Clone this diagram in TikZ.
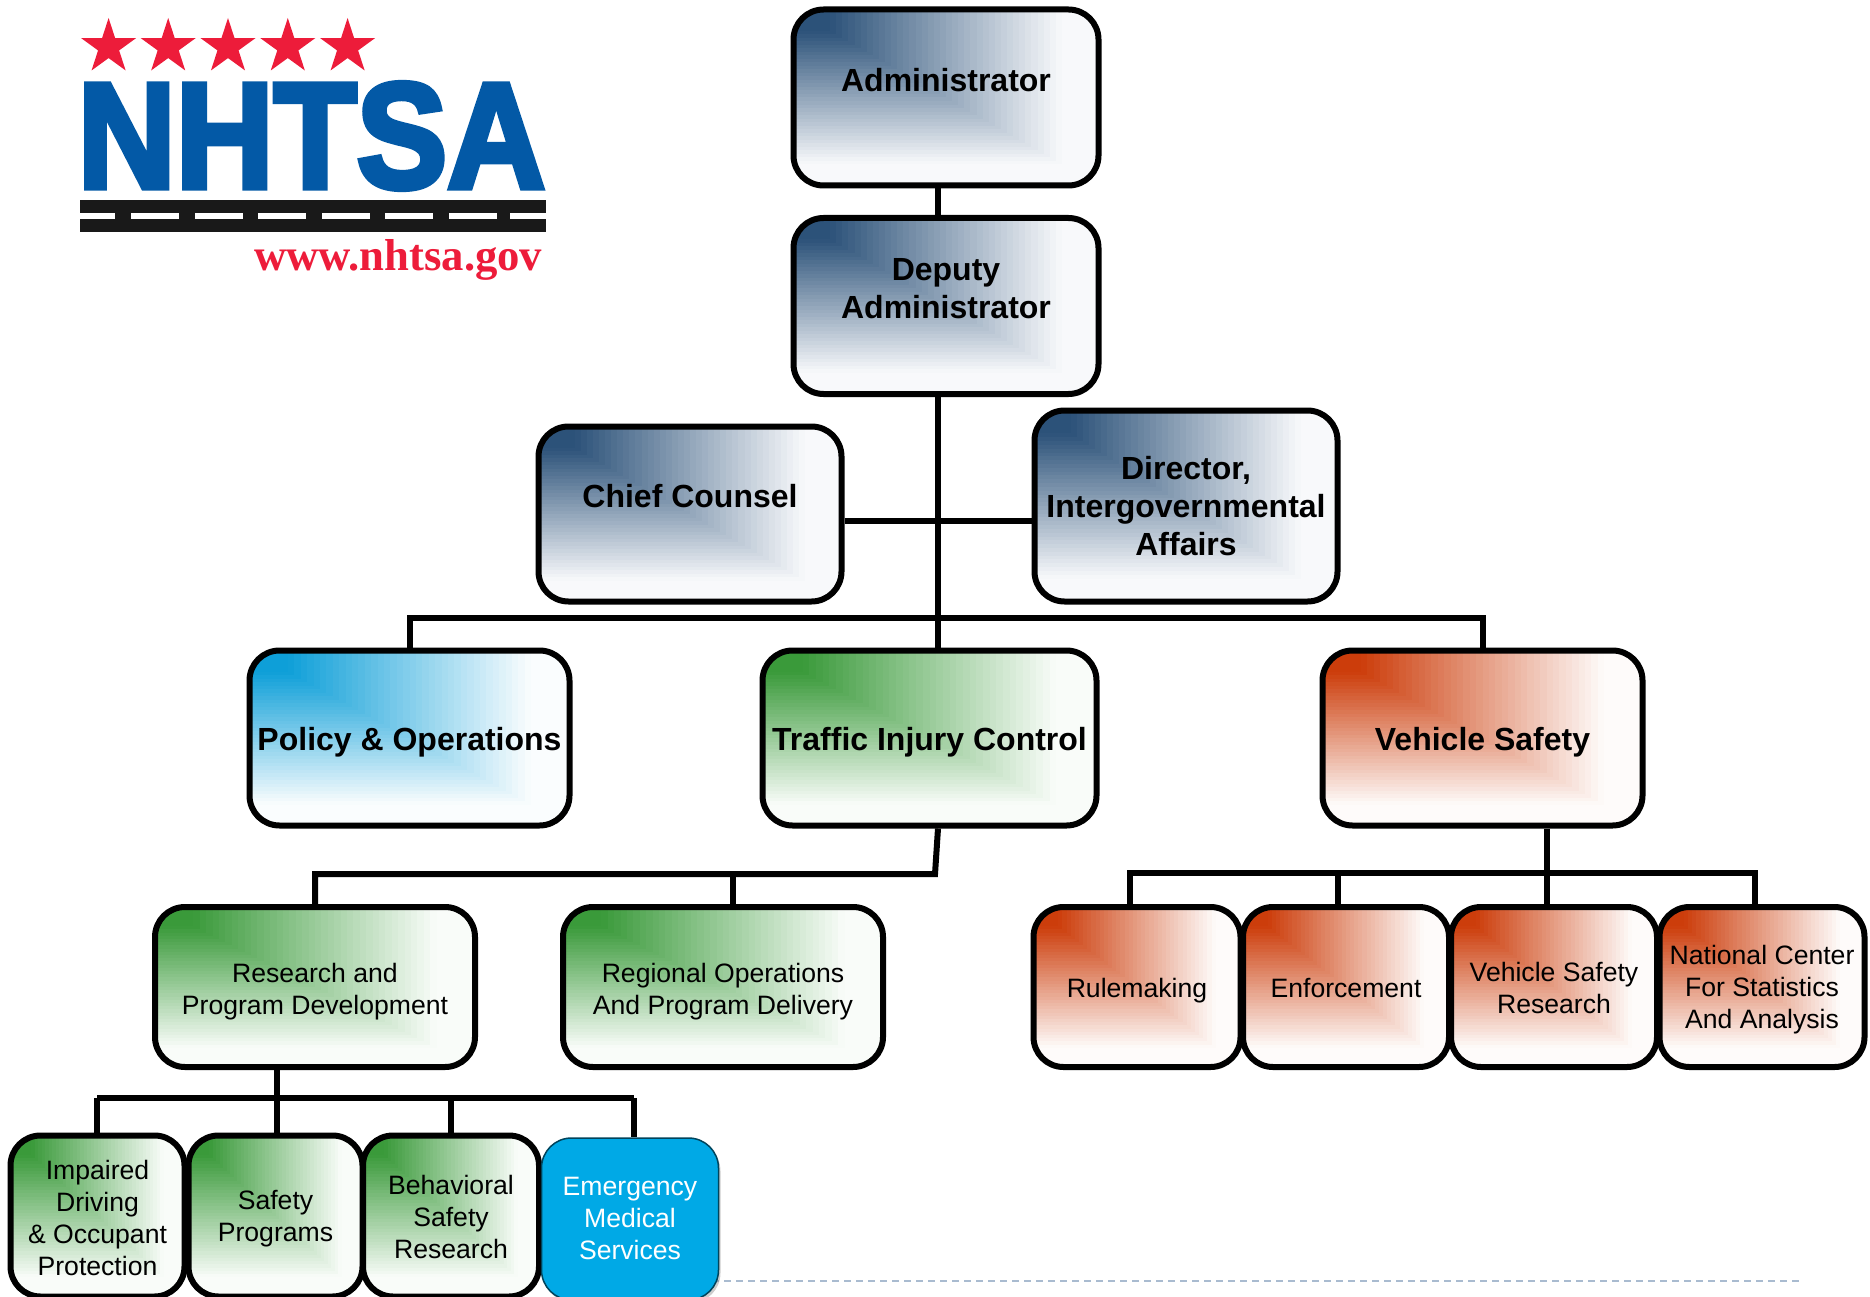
\documentclass[tikz,border=0pt]{standalone}
\usepackage{fontspec}
\setmainfont{Liberation Sans}
\newfontfamily\logofont[BoldFeatures={FakeBold=4}]{Liberation Sans}
\newfontfamily\urlfont{Liberation Serif}
\usetikzlibrary{positioning,calc,shapes.geometric,shadows}
\definecolor{bluedark}{HTML}{2C5279}
\definecolor{bluelight}{HTML}{F8F9FB}
\definecolor{greendark}{HTML}{3A9A3A}
\definecolor{greenlight}{HTML}{F9FCF9}
\definecolor{reddark}{HTML}{CC3D0B}
\definecolor{redlight}{HTML}{FEFBFA}
\definecolor{cyandark}{HTML}{0E9FD8}
\definecolor{cyanlight}{HTML}{FAFDFE}
\definecolor{emsblue}{HTML}{00A9E6}
\definecolor{logoblue}{HTML}{0359A6}
\definecolor{logored}{HTML}{ED1C3A}
\definecolor{dashblue}{HTML}{A9BBD0}
\newcommand{\lifted}[2]{\smash{\raisebox{#1pt}{\begin{tabular}{@{}c@{}}#2\end{tabular}}}}
\tikzset{
  cornerfill/.style 2 args={path picture={
    \foreach \pct in {100,98,...,0} {
      \pgfmathsetmacro\mixval{max(0,min(100,(\pct-13)/.76))}
      \fill[sharp corners,#2!\mixval!#1] (path picture bounding box.north west) rectangle
        ($(path picture bounding box.north west)!\pct/100!(path picture bounding box.south east)$);
    }}},
  orgbox/.style={draw,line width=6pt,rounded corners=30pt,inner sep=0pt},
  bigbox/.style={orgbox,font=\fontsize{32}{38}\selectfont\bfseries},
  smallbox/.style={orgbox,font=\fontsize{26.6}{32}\selectfont},
  bluebox/.style={bigbox,cornerfill={bluedark}{bluelight}},
  wire/.style={line width=6pt},
}
\begin{document}
\begin{tikzpicture}[x=1pt,y=-1pt]
\useasboundingbox (0,0) rectangle (1870,1297);
% logo
\foreach \x in {108.6,168.2,228,287.8,347.6}
  \node[star,star points=5,star point ratio=2.618,fill=logored,inner sep=0pt,minimum size=58pt] (star\x) at (\x,47) {};
\node[text=logoblue,inner sep=0pt,xscale=.905,font=\fontsize{150}{150}\logofont\bfseries] (logoname) at (311.5,136) {NHTSA};
\fill[black!90] (80,200) rectangle (545.5,232);
\fill[white] (80,213) rectangle (115,219);
\foreach \x in {131,194.5,...,450}
  \fill[white] (\x,213) rectangle (\x+48,219);
\fill[white] (510,213) rectangle (545.5,219);
\node[text=logored,inner sep=0pt,font=\fontsize{44.7}{44.7}\urlfont\bfseries] (logourl) at (398.3,260) {www.nhtsa.gov};
% top of the chart
\node[bluebox,minimum width=305pt,minimum height=176pt] (admin) at (946,97.5) {\lifted{7}{Administrator}};
\node[bluebox,minimum width=305pt,minimum height=176pt] (deputy) at (946,306) {\lifted{8}{Deputy\\Administrator}};
\node[bluebox,minimum width=303pt,minimum height=175pt] (counsel) at (690,514) {\lifted{8}{Chief Counsel}};
\node[bluebox,minimum width=303pt,minimum height=191pt] (director) at (1186,506) {\lifted{-10}{Director,\\Intergovernmental\\Affairs}};
% offices
\node[bigbox,cornerfill={cyandark}{cyanlight},minimum width=320pt,minimum height=175pt] (policy) at (409.5,738) {\lifted{-11}{Policy \& Operations}};
\node[bigbox,cornerfill={greendark}{greenlight},minimum width=334pt,minimum height=175pt] (traffic) at (929.5,738) {\lifted{-11}{Traffic Injury Control}};
\node[bigbox,cornerfill={reddark}{redlight},minimum width=320pt,minimum height=175pt] (vehicle) at (1482.5,738) {\lifted{-11}{Vehicle Safety}};
\node[smallbox,cornerfill={greendark}{greenlight},minimum width=320pt,minimum height=160pt] (research) at (315,987) {\lifted{-11}{Research and\\Program Development}};
\node[smallbox,cornerfill={greendark}{greenlight},minimum width=320pt,minimum height=160pt] (regional) at (723,987) {\lifted{-11}{Regional Operations\\And Program Delivery}};
\node[smallbox,cornerfill={reddark}{redlight},minimum width=207pt,minimum height=160pt] (rulemaking) at (1137,987) {\lifted{-10}{Rulemaking}};
\node[smallbox,cornerfill={reddark}{redlight},minimum width=206pt,minimum height=160pt] (enforcement) at (1346,987) {\lifted{-10}{Enforcement}};
\node[smallbox,cornerfill={reddark}{redlight},minimum width=206pt,minimum height=160pt] (vsresearch) at (1554,987) {\lifted{-10}{Vehicle Safety\\Research}};
\node[smallbox,cornerfill={reddark}{redlight},minimum width=205pt,minimum height=160pt] (ncsa) at (1762,987) {\lifted{-9}{National Center\\For Statistics\\And Analysis}};
% bottom row
\coordinate (dashend) at (1801,1281);
\draw[dashblue,line width=1.5pt,dash pattern=on 7pt off 5pt] (700,1281) -- (dashend);
\node[smallbox,cornerfill={greendark}{greenlight},minimum width=174pt,minimum height=161pt] (impaired) at (97.5,1216) {\lifted{-11}{Impaired\\Driving\\\& Occupant\\Protection}};
\node[smallbox,cornerfill={greendark}{greenlight},minimum width=174pt,minimum height=161pt] (safety) at (275.5,1216) {\lifted{-9}{Safety\\Programs}};
\node[smallbox,cornerfill={greendark}{greenlight},minimum width=176pt,minimum height=161pt] (behavioral) at (451,1216) {\lifted{-10}{Behavioral\\Safety\\Research}};
\node[orgbox,line width=1.5pt,draw=black!60!emsblue,fill=emsblue,text=white,font=\fontsize{26.6}{32}\selectfont,drop shadow={shadow xshift=2pt,shadow yshift=-3pt,opacity=.4},minimum width=177pt,minimum height=162pt] (ems) at (630,1219) {\lifted{-8}{Emergency\\Medical\\Services}};
% connectors
\coordinate (spine) at (938,400);
\coordinate (officebar) at (938,618);
\coordinate (trafficbar) at (935,874);
\coordinate (regionaldrop) at (733,874);
\coordinate (rddrop) at (277,1098);
\coordinate (barleft) at (97,1098);
\coordinate (barright) at (634,1098);
\coordinate (behavdrop) at (450.5,1098);
\coordinate (vehiclestem) at (1546.6,873);
\coordinate (vehbarleft) at (1130,873);
\coordinate (vehbarright) at (1754.5,873);
\coordinate (enfdrop) at (1338,873);
\draw[wire] (spine |- admin.south) -- (spine |- deputy.north);
\draw[wire] (spine |- deputy.south) -- (spine |- traffic.north);
\draw[wire] (counsel.east |- 0,521) -- (director.west |- 0,521);
\draw[wire] (policy.north) |- (officebar) -| (vehicle.north);
\draw[wire] (spine |- traffic.south) -- (trafficbar) -| (research.north);
\draw[wire] (regionaldrop) -- (regionaldrop |- regional.north);
\draw[wire] (rddrop |- research.south) -- (rddrop);
\draw[wire] (barleft) -- (barright);
\draw[wire] (barleft) -- (barleft |- impaired.north);
\draw[wire] (rddrop) -- (rddrop |- safety.north);
\draw[wire] (behavdrop) -- (behavdrop |- behavioral.north);
\draw[wire] (barright) -- (barright |- ems.north);
\draw[wire] (vehiclestem |- vehicle.south) -- (vehiclestem |- vsresearch.north);
\draw[wire] (vehbarleft |- rulemaking.north) -- (vehbarleft) -- (vehbarright) -- (vehbarright |- ncsa.north);
\draw[wire] (enfdrop) -- (enfdrop |- enforcement.north);
\end{tikzpicture}
\end{document}
